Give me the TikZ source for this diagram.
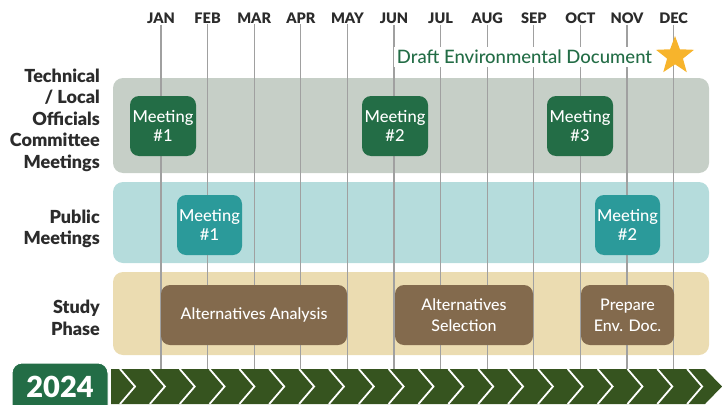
\documentclass[tikz,border=0pt]{standalone}
\usepackage{fontspec}
\setmainfont{Lato}
\newfontfamily\heavyfont{Lato Black}
\newfontfamily\boxfont{Lato Medium}
\usetikzlibrary{shapes.geometric,positioning,calc}

\definecolor{bandgray}{HTML}{C6CFC7}
\definecolor{bandteal}{HTML}{B5DCDC}
\definecolor{bandtan}{HTML}{EBDCB1}
\definecolor{meetgreen}{HTML}{236D46}
\definecolor{meetteal}{HTML}{2B9A9A}
\definecolor{phasebrown}{HTML}{836A4D}
\definecolor{bargreen}{HTML}{36541F}
\definecolor{stargold}{HTML}{F7B42C}
\definecolor{linegray}{HTML}{A0A0A0}
\definecolor{labelgray}{HTML}{2B2B2B}

\begin{document}
\begin{tikzpicture}[x=1pt,y=-1pt]
\tikzset{BAND/.style={rounded corners=10pt}}
\tikzset{MONTH/.style={font=\fontsize{14.5}{15}\heavyfont,text=labelgray,inner sep=1pt}}
\tikzset{MONTHLINE/.style={draw=linegray,line width=1.2pt}}
\tikzset{BOX/.style={rounded corners=9pt,text=white,align=center,inner sep=0pt,font=\fontsize{16.5}{19}\boxfont}}
\tikzset{MEETING/.style={BOX,fill=meetgreen,minimum width=66pt,minimum height=60pt}}
\tikzset{PUBLIC/.style={BOX,fill=meetteal,minimum width=65pt,minimum height=60pt}}
\tikzset{PHASE/.style={BOX,fill=phasebrown,minimum height=60pt,font=\fontsize{16}{21}\boxfont}}
\tikzset{ROWLABEL/.style={align=right,anchor=east,text=labelgray,inner sep=0pt,font=\fontsize{18}{21.5}\heavyfont}}
\tikzset{CHEVRON/.style={draw=white,line width=1.8pt}}

\useasboundingbox (0,0) rectangle (722,404);

% row bands
\path[BAND,fill=bandgray] (113,78) rectangle (709,173);
\path[BAND,fill=bandteal] (113,182) rectangle (709,263);
\path[BAND,fill=bandtan] (113,272) rectangle (709,355);

% months and their lines
\coordinate (bartop) at (0,369);
\foreach \m [count=\i] in {JAN,FEB,MAR,APR,MAY,JUN,JUL,AUG,SEP,OCT,NOV,DEC}
{
  \node[MONTH] (m\i) at ({161+46.6*(\i-1)},18) {\m};
  \draw[MONTHLINE] (m\i.south) -- (m\i.south |- bartop);
}

\node[fill=white,text=meetgreen,inner sep=3pt,font=\fontsize{18.5}{18}\boxfont] (draft) at (524.5,57) {Draft Environmental Document};
\node[star,star points=5,star point ratio=2.4,fill=stargold,minimum size=40pt,inner sep=0pt] (star) at (675,56) {};

% row labels
\node[ROWLABEL] (techlabel) at (100,120) {Technical\\/ Local\\Officials\\Committee\\Meetings};
\node[ROWLABEL] (publabel) at (100,229) {Public\\Meetings};
\node[ROWLABEL] (studylabel) at (100,318) {Study\\Phase};

% committee meetings
\node[MEETING] (tech1) at (163,126) {Meeting\\\#1};
\node[MEETING] (tech2) at (395,126) {Meeting\\\#2};
\node[MEETING] (tech3) at (580,126) {Meeting\\\#3};

% public meetings
\node[PUBLIC] (pub1) at (209.5,225) {Meeting\\\#1};
\node[PUBLIC] (pub2) at (627.5,225) {Meeting\\\#2};

% study phases
\node[PHASE,minimum width=186pt] (analysis) at (254,315) {Alternatives Analysis};
\node[PHASE,minimum width=138pt] (selection) at (464,315) {Alternatives\\Selection};
\node[PHASE,minimum width=93pt] (envdoc) at (627.5,315) {Prepare\\Env. Doc.};

% year bar
\path[fill=bargreen] (111,369) -- (705,369) -- (722,386.5) -- (705,404) -- (111,404) -- cycle;
\foreach \k in {0,...,19}
  \draw[CHEVRON] ({120+29.85*\k},369) -- ({135+29.85*\k},386.5) -- ({120+29.85*\k},404);
\path[fill=meetgreen,draw=white,line width=1pt,rounded corners=10pt] (12,363) rectangle (108,416);
\node[text=white,font=\fontsize{29}{29}\heavyfont] (year) at (60,387) {2024};
\end{tikzpicture}
\end{document}
